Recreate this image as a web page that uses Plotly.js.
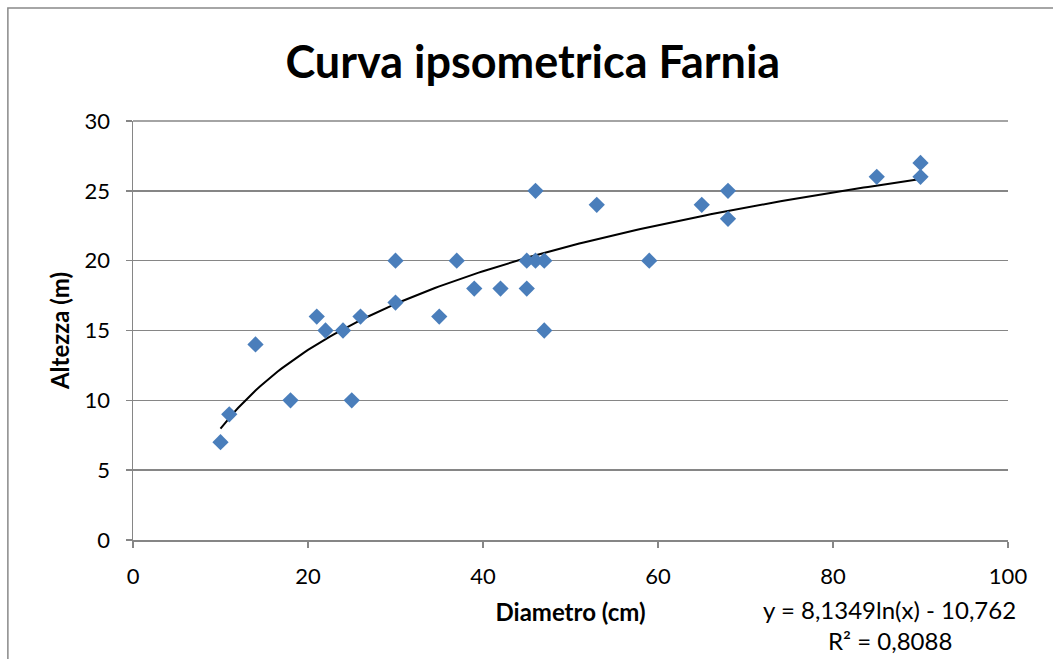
<!DOCTYPE html>
<html>
<head>
<meta charset="utf-8">
<script src="https://cdn.plot.ly/plotly-3.0.1.min.js"></script>
<style>html,body{margin:0;padding:0;background:#fff;}#chart{width:1053px;height:659px;}</style>
</head>
<body>
<div id="chart"></div>
<script>
// Data
const diametro = [10, 11, 14, 18, 21, 22, 24, 25, 26, 30, 30, 35, 37, 39, 42, 45, 45, 46, 46, 47, 47, 53, 59, 65, 68, 68, 85, 90, 90];
const altezza  = [7, 9, 14, 10, 16, 15, 15, 10, 16, 20, 17, 16, 20, 18, 18, 20, 18, 25, 20, 20, 15, 24, 20, 24, 25, 23, 26, 27, 26];

// Logarithmic trendline shown on the chart: y = a*ln(x) + b
const trendA = 8.1349;
const trendB = -10.762;
const trendXmin = 10;
const trendXmax = 90;

const trendX = [];
const trendY = [];
for (let x = trendXmin; x <= trendXmax; x += 0.5) {
  trendX.push(x);
  trendY.push(trendA * Math.log(x) + trendB);
}

const xTicks = [0, 20, 40, 60, 80, 100];
const yTicks = [0, 5, 10, 15, 20, 25, 30];

const FONT = 'Lato, "Open Sans", sans-serif';

const traces = [
  {
    x: trendX, y: trendY, type: 'scatter', mode: 'lines',
    line: {color: '#000000', width: 2}, hoverinfo: 'skip', showlegend: false
  },
  {
    x: diametro, y: altezza, type: 'scatter', mode: 'markers',
    marker: {symbol: 'diamond', size: 12.5, color: '#4A7EBB'}, showlegend: false
  }
];

const layout = {
  width: 1053, height: 659,
  margin: {l: 133, r: 45, t: 121, b: 119},
  paper_bgcolor: '#ffffff', plot_bgcolor: '#ffffff',
  font: {family: FONT, color: '#000000', size: 22},
  title: {
    text: '<b>Curva ipsometrica Farnia</b>',
    font: {family: FONT, size: 45, color: '#000000'},
    x: 0.506, xanchor: 'center', y: 0.905, yanchor: 'middle'
  },
  xaxis: {
    range: [0, 100], tickvals: xTicks, ticktext: xTicks.map(String),
    showgrid: false, zeroline: false,
    showline: true, linecolor: '#868686', linewidth: 1.5,
    ticks: 'outside', ticklen: 6, tickcolor: '#868686', tickwidth: 1.5,
    ticklabelstandoff: 10,
    tickfont: {family: FONT, size: 22},
    title: {text: '<b>Diametro (cm)</b>', font: {family: FONT, size: 24}, standoff: 16}
  },
  yaxis: {
    range: [0, 30], tickvals: yTicks, ticktext: yTicks.map(String),
    showgrid: true, gridcolor: '#868686', gridwidth: 1.5,
    zeroline: false,
    showline: true, linecolor: '#868686', linewidth: 1.5,
    ticks: 'outside', ticklen: 6, tickcolor: '#868686', tickwidth: 1.5,
    ticklabelstandoff: 11,
    tickfont: {family: FONT, size: 22},
    title: {text: '<b>Altezza (m)</b>', font: {family: FONT, size: 24}, standoff: 8}
  },
  shapes: [
    {type: 'rect', xref: 'paper', yref: 'paper',
     x0: -0.143, x1: 1.2, y0: -0.5, y1: 1.2697,
     line: {color: '#898989', width: 1.5}, fillcolor: 'rgba(0,0,0,0)', layer: 'below'},
    {type: 'line', xref: 'paper', yref: 'paper', x0: 0, x1: 1, y0: 1, y1: 1,
     line: {color: '#868686', width: 1.5}, layer: 'below'}
  ],
  annotations: [
    {xref: 'paper', yref: 'paper', x: 0.865, y: -0.167, xanchor: 'center', yanchor: 'middle',
     text: 'y = 8,1349ln(x) - 10,762', showarrow: false, font: {family: FONT, size: 24}},
    {xref: 'paper', yref: 'paper', x: 0.865, y: -0.241, xanchor: 'center', yanchor: 'middle',
     text: 'R² = 0,8088', showarrow: false, font: {family: FONT, size: 24}}
  ]
};

Plotly.newPlot('chart', traces, layout, {displayModeBar: false, staticPlot: true});
</script>
</body>
</html>
